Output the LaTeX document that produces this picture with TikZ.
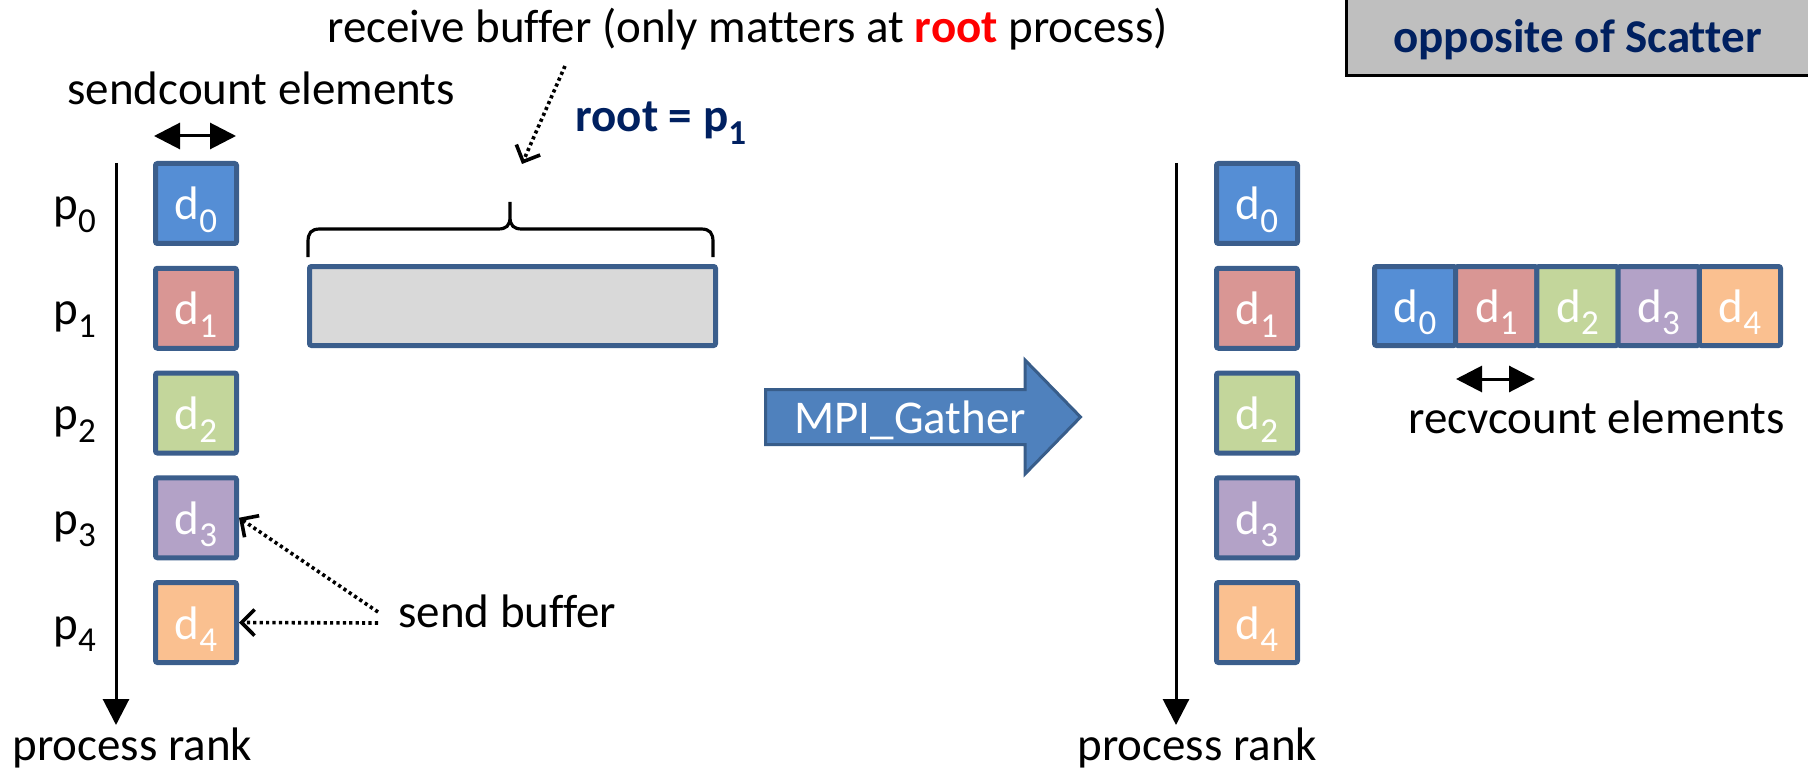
\documentclass[tikz,border=0pt]{standalone}
\usepackage{fontspec}
\setmainfont[Ligatures=NoCommon]{Carlito}
\usetikzlibrary{arrows.meta,calc}

\definecolor{cA}{HTML}{558ED5}
\definecolor{cB}{HTML}{D99694}
\definecolor{cC}{HTML}{C3D69B}
\definecolor{cD}{HTML}{B3A2C7}
\definecolor{cE}{HTML}{FAC090}
\definecolor{cellborder}{HTML}{3B5E8C}
\definecolor{bufgray}{HTML}{D9D9D9}
\definecolor{navy}{HTML}{002060}
\definecolor{tabgray}{HTML}{BFBFBF}
\definecolor{mpiblue}{HTML}{4F81BD}
\definecolor{mpiborder}{HTML}{385D8A}

% lowered, smaller digit used as an index
\newcommand\idx[1]{\raisebox{-6.25pt}{\fontsize{17.5pt}{18pt}\selectfont #1}}

\begin{document}
\begin{tikzpicture}[x=0.5pt,y=-0.5pt,
  txt/.style={inner sep=0pt, anchor=base west, font=\fontsize{23.5pt}{28pt}\selectfont},
  cell/.style={draw=cellborder, line width=2.5pt, minimum width=40.5pt,
               minimum height=40pt, inner sep=0pt, rounded corners=1pt},
  dtext/.style={inner sep=0pt, anchor=base, text=white, font=\fontsize{23.5pt}{28pt}\selectfont},
  axis/.style={line width=1.5pt, -{Triangle[length=13pt,width=13pt]}},
  span/.style={line width=1.5pt, {Triangle[length=13pt,width=13pt]}-{Triangle[length=13pt,width=13pt]}},
  pointer/.style={line width=1.8pt, dash pattern=on 1.6pt off 1.6pt,
                  -{Straight Barb[length=6.5pt,width=13pt]}},
  bracestyle/.style={line width=1.6pt}
]
\useasboundingbox (0,0) rectangle (1808,770);

% tab in the top right corner
\path[draw=black, line width=1.5pt, fill=tabgray] (1346.5,-10) rectangle (1830,75.5);
\node[txt, text=navy, font=\fontsize{23.5pt}{28pt}\selectfont\bfseries] (opp) at (1393,53) {opposite of Scatter};

% top labels
\node[txt] (recvlbl) at (327,43) {receive buffer (only matters at \textcolor{red}{\bfseries root} process)};
\node[txt] (sendcnt) at (67,105) {sendcount elements};
\node[txt, text=navy, font=\fontsize{23.5pt}{28pt}\selectfont\bfseries] (root) at (575,132) {root = p\idx{1}};

% process-rank axes
\coordinate (axLtop) at (116,163);
\coordinate (axLend) at (116,725);
\coordinate (axRtop) at (1176,163);
\coordinate (axRend) at (1176,725);
\draw[axis] (axLtop) -- (axLend);
\draw[axis] (axRtop) -- (axRend);
\node[txt] (rankL) at (12,760) {process rank};
\node[txt] (rankR) at (1077,760) {process rank};

% per-process send buffers (before and after)
\foreach \i/\c in {0/cA,1/cB,2/cC,3/cD,4/cE}{
  \node[txt] (p\i) at (53,{220+104.75*\i}) {p\idx{\i}};
  \node[cell, fill=\c] (l\i) at (196,{203.5+104.75*\i}) {};
  \node[dtext] (lt\i) at ($(l\i.center)+(0,16.5)$) {d\idx{\i}};
  \node[cell, fill=\c] (r\i) at (1257,{203.5+104.75*\i}) {};
  \node[dtext] (rt\i) at ($(r\i.center)+(0,16.5)$) {d\idx{\i}};
}

% gathered receive buffer at the root
\foreach \i/\c in {0/cA,1/cB,2/cC,3/cD,4/cE}{
  \node[cell, fill=\c, minimum width=40.6pt, minimum height=39.5pt] (a\i) at ({1415.1+81.2*\i},306) {};
  \node[dtext] (at\i) at ($(a\i.center)+(0,16)$) {d\idx{\i}};
}
\coordinate (rc1) at (1456,379);
\coordinate (rc2) at (1535,379);
\draw[span] (rc1) -- (rc2);
\node[txt] (recvcnt) at (1408,433) {recvcount elements};

% empty receive buffer before the call
\node[cell, fill=bufgray, minimum width=203pt, minimum height=39.5pt] (recv) at (512.5,306) {};
\draw[bracestyle] (308,257) -- (308,242)
  .. controls (308,233) and (311,229) .. (320,229) -- (498,229)
  .. controls (506,229) and (510,226) .. (510,217) -- (510,202)
  -- (510,217) .. controls (510,226) and (514,229) .. (522,229) -- (701,229)
  .. controls (710,229) and (713,233) .. (713,242) -- (713,257);

% sendcount span
\coordinate (sc1) at (154,136);
\coordinate (sc2) at (236,136);
\draw[span] (sc1) -- (sc2);

% dotted pointers
\coordinate (rbA) at (565,66);
\coordinate (rbB) at (522,164);
\draw[pointer] (rbA) -- (rbB);
\node[txt] (sendbuf) at (398,627) {send buffer};
\coordinate (sbA) at (378,612);
\coordinate (sbB) at (378,623);
\draw[pointer] (sbA) -- (l3.east);
\draw[pointer] (sbB) -- (l4.east);

% MPI_Gather block arrow
\path[draw=mpiborder, line width=1.5pt, fill=mpiblue]
  (765.5,389.5) -- (1025,389.5) -- (1025,360) -- (1080.5,417)
  -- (1025,474) -- (1025,444.5) -- (765.5,444.5) -- cycle;
\node[txt, text=white] (gather) at (794,433) {MPI\_Gather};
\end{tikzpicture}
\end{document}
